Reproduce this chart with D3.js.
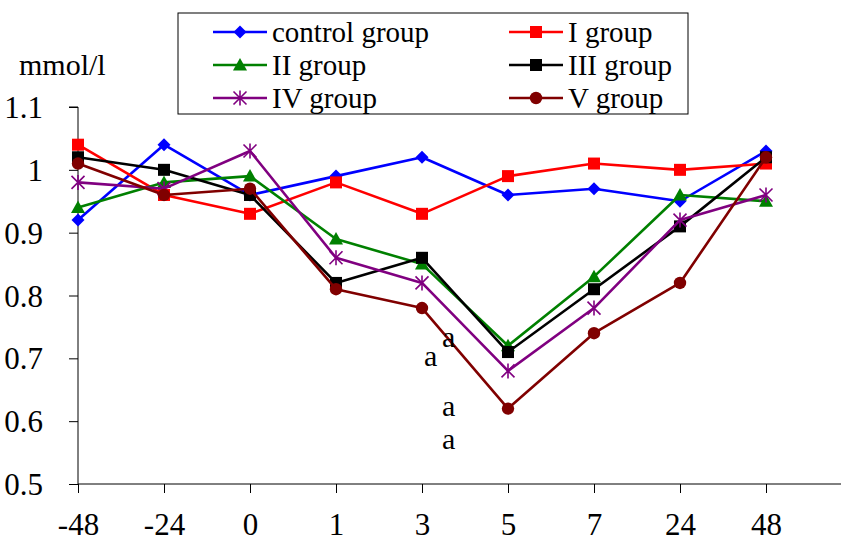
<!DOCTYPE html>
<html>
<head>
<meta charset="utf-8">
<script src="https://cdn.jsdelivr.net/npm/d3@7"></script>
<style>
  html, body { margin: 0; padding: 0; background: #fff; }
  svg { display: block; }
</style>
</head>
<body>
<svg id="chart" width="841" height="541"></svg>
<script>
// ---- data ----
const categories = ["-48", "-24", "0", "1", "3", "5", "7", "24", "48"];
const controlGroup = [0.92, 1.04, 0.96, 0.99, 1.02, 0.96, 0.97, 0.95, 1.03];
const group1 = [1.04, 0.96, 0.93, 0.98, 0.93, 0.99, 1.01, 1.00, 1.01];
const group2 = [0.94, 0.98, 0.99, 0.89, 0.85, 0.72, 0.83, 0.96, 0.95];
const group3 = [1.02, 1.00, 0.96, 0.82, 0.86, 0.71, 0.81, 0.91, 1.02];
const group4 = [0.98, 0.97, 1.03, 0.86, 0.82, 0.68, 0.78, 0.92, 0.96];
const group5 = [1.01, 0.96, 0.97, 0.81, 0.78, 0.62, 0.74, 0.82, 1.02];
const seriesNames = ["control group", "I group", "II group", "III group", "IV group", "V group"];
const yTicks = [0.5, 0.6, 0.7, 0.8, 0.9, 1.0, 1.1];
const yUnit = "mmol/l";
// significance marks ("a"), positioned in data space (category index, value)
const annotText = ["a", "a", "a", "a"];
const annotIndex = [4.31, 4.1, 4.31, 4.31];
const annotValue = [0.729, 0.699, 0.619, 0.566];

// ---- styles ----
const FONT = '"Liberation Serif"';
const colors = ["#0000FF", "#FF0000", "#008000", "#000000", "#800080", "#800000"];
const markers = ["diamond", "square", "triangle", "square", "star", "circle"];

const series = [controlGroup, group1, group2, group3, group4, group5].map((v, i) => ({
  name: seriesNames[i], values: v, color: colors[i], marker: markers[i]
}));

function setFont(sel, size) {
  return sel.attr("font-family", "Liberation Serif").style("font-family", FONT).attr("font-size", size);
}

const svg = d3.select("#chart");
const plotLeft = 78, plotBottom = 484, plotTop = 107;
const step = 86;
const x = d3.scaleLinear().domain([0, categories.length]).range([plotLeft, plotLeft + step * categories.length]);
const y = d3.scaleLinear().domain([0.5, 1.1]).range([plotBottom, plotTop]);

// axes
const yAxis = d3.axisLeft(y).tickValues(yTicks).tickSize(9).tickPadding(26)
  .tickFormat(d => d === 1 ? "1" : d3.format(".1f")(d));
const gy = svg.append("g").attr("transform", `translate(${plotLeft},0)`).call(yAxis);
setFont(gy, 31);
gy.select(".domain").attr("d", `M-9,${plotTop}H0V${plotBottom}`).attr("stroke", "#000").attr("stroke-width", 1);
gy.selectAll(".tick line").attr("stroke", "#000");
setFont(gy.selectAll(".tick text"), 31).attr("fill", "#000").attr("dy", "0.34em");

const xAxis = d3.axisBottom(x).tickValues(d3.range(categories.length)).tickSize(9).tickPadding(20)
  .tickFormat(i => categories[i]);
const gx = svg.append("g").attr("transform", `translate(0,${plotBottom})`).call(xAxis);
setFont(gx, 31);
gx.select(".domain").attr("d", `M${plotLeft},0H${x(categories.length)}`).attr("stroke", "#000").attr("stroke-width", 1);
gx.selectAll(".tick line").attr("stroke", "#000");
setFont(gx.selectAll(".tick text"), 31).attr("fill", "#000");

// unit label
setFont(svg.append("text").attr("x", 19).attr("y", 75), 30).text(yUnit);

// marker drawing
function drawMarker(g, type, color, cx, cy) {
  const s = 6.5;
  if (type === "diamond") {
    g.append("path").attr("d", `M${cx},${cy - s}L${cx + s},${cy}L${cx},${cy + s}L${cx - s},${cy}Z`).attr("fill", color);
  } else if (type === "square") {
    g.append("rect").attr("x", cx - 6).attr("y", cy - 6).attr("width", 12).attr("height", 12).attr("fill", color);
  } else if (type === "triangle") {
    g.append("path").attr("d", `M${cx},${cy - 7}L${cx + 7},${cy + 5.5}L${cx - 7},${cy + 5.5}Z`).attr("fill", color);
  } else if (type === "circle") {
    g.append("circle").attr("cx", cx).attr("cy", cy).attr("r", 6.2).attr("fill", color);
  } else if (type === "star") {
    const r = 6.5;
    g.append("path").attr("d",
      `M${cx - r},${cy - r}L${cx + r},${cy + r}M${cx - r},${cy + r}L${cx + r},${cy - r}M${cx},${cy - r - 1}L${cx},${cy + r + 1}`)
      .attr("stroke", color).attr("stroke-width", 1.6).attr("fill", "none");
  }
}

const line = d3.line().x((d, i) => x(i)).y(d => y(d));
series.forEach(s => {
  const g = svg.append("g");
  g.append("path").attr("d", line(s.values)).attr("fill", "none")
    .attr("stroke", s.color).attr("stroke-width", 2.6).attr("stroke-linejoin", "round");
  s.values.forEach((v, i) => drawMarker(g, s.marker, s.color, x(i), y(v)));
});

// annotations
annotText.forEach((t, i) => {
  setFont(svg.append("text").attr("x", x(annotIndex[i])).attr("y", y(annotValue[i]))
    .attr("text-anchor", "middle").attr("dy", "0.23em"), 30).text(t);
});

// legend
const lg = svg.append("g");
lg.append("rect").attr("x", 178).attr("y", 13).attr("width", 510).attr("height", 101)
  .attr("fill", "#fff").attr("stroke", "#000").attr("stroke-width", 1);
series.forEach((s, i) => {
  const col = i % 2, row = Math.floor(i / 2);
  const lx = col === 0 ? 213 : 509;
  const ly = 32 + row * 33;
  lg.append("line").attr("x1", lx).attr("x2", lx + 54).attr("y1", ly).attr("y2", ly)
    .attr("stroke", s.color).attr("stroke-width", 2.6);
  drawMarker(lg, s.marker, s.color, lx + 27, ly);
  setFont(lg.append("text").attr("x", lx + 59).attr("y", ly).attr("dy", "0.33em"), 29).text(s.name);
});
</script>
</body>
</html>
